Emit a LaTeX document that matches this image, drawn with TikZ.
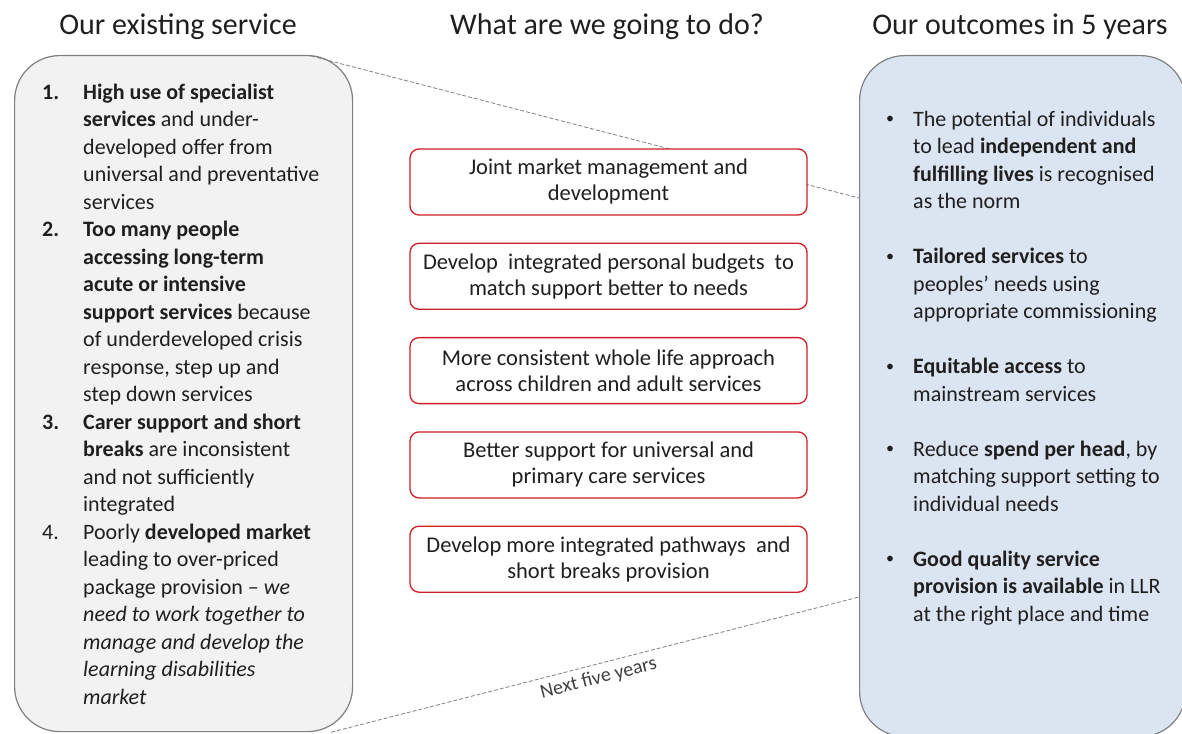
\documentclass[tikz,border=0pt]{standalone}
\usepackage{fontspec}
\setmainfont{Carlito}
\usepackage{xcolor}
\usetikzlibrary{positioning,calc}
\definecolor{boxgray}{rgb}{0.95,0.95,0.95}
\definecolor{boxblue}{rgb}{0.86,0.90,0.95}
\definecolor{edgered}{rgb}{0.80,0.12,0.15}
\definecolor{inkgray}{rgb}{0.50,0.50,0.50}
\newcommand{\dotitem}{\raisebox{2.5pt}{\fontsize{16}{27.5}\selectfont •}}

\begin{document}
\begin{tikzpicture}[x=1pt,y=-1pt,font=\fontsize{22}{27.5}\selectfont,text=black!88,
   big/.style={draw=inkgray,line width=1.2pt,rounded corners=45pt,anchor=north west},
   act/.style={draw=edgered,line width=1.3pt,rounded corners=9pt,fill=white,
               minimum width=397pt,minimum height=66pt,align=center,inner sep=0pt,
               font=\fontsize{22.5}{26}\selectfont},
   head/.style={font=\fontsize{30}{34}\selectfont},
   lane/.style={draw=inkgray,line width=0.8pt,dash pattern=on 4pt off 2pt}]
  \useasboundingbox (0,0) rectangle (1182,733);
  % the two columns
  \node[big,fill=boxgray,minimum width=338pt,minimum height=676pt] (now) at (14,55) {};
  \node[big,fill=boxblue,minimum width=326pt,minimum height=681pt] (goal) at (859,55) {};
  % the funnel
  \coordinate (ta) at ($(now.north east)+(-42,1)$);
  \coordinate (tb) at ($(goal.north west)+(0,143)$);
  \coordinate (ba) at ($(now.south east)+(-22,0)$);
  \coordinate (bb) at ($(goal.north west)+(0,542)$);
  \draw[lane] (ta) -- (tb);
  \draw[lane] (ba) -- node[sloped,below=2pt,font=\fontsize{20}{22}\selectfont,text=black!75] (yrs) {Next five years} (bb);
  % headings
  \node[head] (hnow) at (178,27) {Our existing service};
  \node[head] (hact) at (607,27) {What are we going to do?};
  \node[head] (hgoal) at (1020,27) {Our outcomes in 5 years};
  % actions
  \node[act] (a1) at (608.5,182) {Joint market management and\\development};
  \node[act,below=27pt of a1] (a2) {Develop\ \ integrated personal budgets\ \ to\\match support better to needs};
  \node[act,below=27pt of a2] (a3) {More consistent whole life approach\\across children and adult services};
  \node[act,below=27pt of a3] (a4) {Better support for universal and\\primary care services};
  \node[act,below=27pt of a4] (a5) {Develop more integrated pathways\ \ and\\short breaks provision};
  % existing service list
  \node[anchor=north west,inner sep=0pt] (nowtxt) at (42,80) {%
    \begin{tabular}{@{}p{41pt}@{}l@{}}
    \textbf{1.} & \textbf{High use of specialist}\\
      & \textbf{services} and under-\\
      & developed offer from\\
      & universal and preventative\\
      & services\\
    \textbf{2.} & \textbf{Too many people}\\
      & \textbf{accessing long-term}\\
      & \textbf{acute or intensive}\\
      & \textbf{support services} because\\
      & of underdeveloped crisis\\
      & response, step up and\\
      & step down services\\
    \textbf{3.} & \textbf{Carer support and short}\\
      & \textbf{breaks} are inconsistent\\
      & and not sufficiently\\
      & integrated\\
    4. & Poorly \textbf{developed market}\\
      & leading to over-priced\\
      & package provision -- \textit{we}\\
      & \textit{need to work together to}\\
      & \textit{manage and develop the}\\
      & \textit{learning disabilities}\\
      & \textit{market}
    \end{tabular}};
  % outcomes list
  \node[anchor=north west,inner sep=0pt] (goaltxt) at (886,107) {%
    \begin{tabular}{@{}p{27pt}@{}l@{}}
    \dotitem & The potential of individuals\\
      & to lead \textbf{independent and}\\
      & \textbf{fulfilling lives} is recognised\\
      & as the norm\\[27.5pt]
    \dotitem & \textbf{Tailored services} to\\
      & peoples’ needs using\\
      & appropriate commissioning\\[27.5pt]
    \dotitem & \textbf{Equitable access} to\\
      & mainstream services\\[27.5pt]
    \dotitem & Reduce \textbf{spend per head}, by\\
      & matching support setting to\\
      & individual needs\\[27.5pt]
    \dotitem & \textbf{Good quality service}\\
      & \textbf{provision is available} in LLR\\
      & at the right place and time
    \end{tabular}};
\end{tikzpicture}
\end{document}
